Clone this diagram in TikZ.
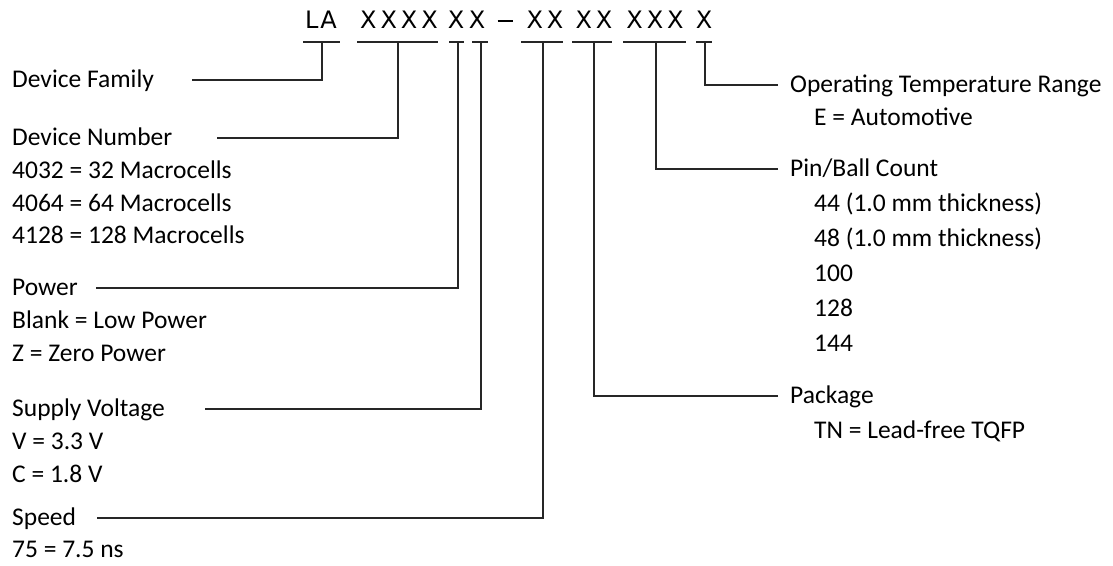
\documentclass[tikz,border=0pt]{standalone}
\usepackage{fontspec}
\setmainfont{Carlito}
\newfontfamily\hdrfont{DejaVu Sans}
\newcommand\xsp{\kern4pt}
\begin{document}
\begin{tikzpicture}[x=1pt,y=-1pt,
  lbl/.style={anchor=west, inner sep=0pt, text height=15.8pt, text depth=0pt, font=\fontsize{25.5}{30}\selectfont},
  hdr/.style={inner sep=0pt, text height=17.5pt, text depth=0pt, font=\hdrfont\fontsize{24}{28}\selectfont},
  conn/.style={line width=1.4pt, black!85},
]
\useasboundingbox (0,0) rectangle (1113,565);

% ---- header code
\node[hdr] (hLA)  at (321,20) {L\kern2pt A};
\node[hdr] (hDev) at (399,20) {X\xsp X\xsp X\xsp X};
\node[hdr] (hPw)  at (456,20) {X};
\node[hdr] (hSv)  at (477,20) {X};
\node[hdr] (hDash) at (505,20) {\rule[0.3em]{15pt}{1.5pt}};
\node[hdr] (hSp)  at (545,20) {X\xsp X};
\node[hdr] (hPk)  at (594,20) {X\xsp X};
\node[hdr] (hPin) at (655,20) {X\xsp X\xsp X};
\node[hdr] (hOp)  at (704,20) {X};

% underlines
\draw[conn] (303,42) -- (340,42);
\draw[conn] (357,42) -- (438,42);
\draw[conn] (449,42) -- (464,42);
\draw[conn] (472,42) -- (488,42);
\draw[conn] (521,42) -- (563,42);
\draw[conn] (572,42) -- (612,42);
\draw[conn] (623,42) -- (686,42);
\draw[conn] (696,42) -- (712,42);

% stem tops
\coordinate (t1) at (322,42);
\coordinate (t2) at (398,42);
\coordinate (t3) at (458,42);
\coordinate (t4) at (481,42);
\coordinate (t5) at (543,42);
\coordinate (t6) at (594,42);
\coordinate (t7) at (656,42);
\coordinate (t8) at (705,42);

% ---- left labels
\node[lbl] (fam)  at (12,80)  {Device Family};
\node[lbl] (dnum) at (12,138) {Device Number};
\node[lbl] (d1)   at (12,171) {4032 = 32 Macrocells};
\node[lbl] (d2)   at (12,204) {4064 = 64 Macrocells};
\node[lbl] (d3)   at (12,236) {4128 = 128 Macrocells};
\node[lbl] (pow)  at (12,288) {Power};
\node[lbl] (p1)   at (12,321) {Blank = Low Power};
\node[lbl] (p2)   at (12,354) {Z = Zero Power};
\node[lbl] (sv)   at (12,409) {Supply Voltage};
\node[lbl] (s1)   at (12,442) {V = 3.3 V};
\node[lbl] (s2)   at (12,475) {C = 1.8 V};
\node[lbl] (spd)  at (12,518) {Speed};
\node[lbl] (sp1)  at (12,550) {75 = 7.5 ns};

\coordinate (famL) at (192,80);
\coordinate (dnumL) at (217,138);
\coordinate (powL) at (96,288);
\coordinate (svL) at (205,409);
\coordinate (spdL) at (97,518);

\draw[conn] (famL) -| (t1);
\draw[conn] (dnumL) -| (t2);
\draw[conn] (powL) -| (t3);
\draw[conn] (svL) -| (t4);
\draw[conn] (spdL) -| (t5);

% ---- right labels
\node[lbl] (op)  at (790,85)  {Operating Temperature Range};
\node[lbl] (op1) at (814,118) {E = Automotive};
\node[lbl] (pin) at (790,169) {Pin/Ball Count};
\node[lbl] (pn1) at (814,204) {44 (1.0 mm thickness)};
\node[lbl] (pn2) at (814,239) {48 (1.0 mm thickness)};
\node[lbl] (pn3) at (814,274) {100};
\node[lbl] (pn4) at (814,309) {128};
\node[lbl] (pn5) at (814,344) {144};
\node[lbl] (pkg) at (790,396) {Package};
\node[lbl] (pk1) at (814,431) {TN = Lead-free TQFP};

\coordinate (opR) at (778,85);
\coordinate (pinR) at (778,169);
\coordinate (pkgR) at (778,396);

\draw[conn] (opR) -| (t8);
\draw[conn] (pinR) -| (t7);
\draw[conn] (pkgR) -| (t6);
\end{tikzpicture}
\end{document}
